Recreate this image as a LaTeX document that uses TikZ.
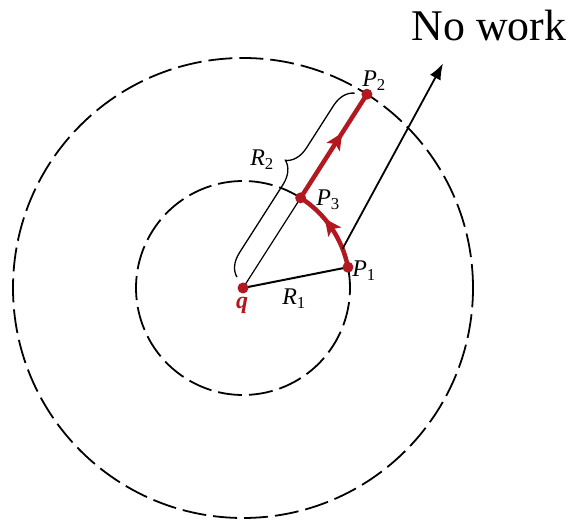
\documentclass[tikz,border=0pt]{standalone}
\usepackage{fontspec}
\setmainfont{Liberation Serif}
\usetikzlibrary{calc,arrows.meta,decorations.pathreplacing,decorations.markings}
\definecolor{chargered}{RGB}{178,24,32}
\tikzset{
  circdash/.style={line width=1.8, dash pattern=on 24bp off 7bp},
  redpath/.style={chargered, line width=4.5},
  midhead/.style={postaction=decorate,
    decoration={markings, mark=at position #1 with {\fill[chargered] (7bp,0) -- (-10bp,8bp) -- (-6bp,0) -- (-10bp,-8bp) -- cycle;}}},
  lbl/.style={font=\fontsize{24}{28}\selectfont\itshape, inner sep=0pt},
  bracestyle/.style={line width=1.3, decorate, decoration={brace, amplitude=22bp, raise=11bp, aspect=0.57}},
  dot/.style={chargered}
}
\begin{document}
\begin{tikzpicture}[x=1bp,y=1bp]
\useasboundingbox (0,0) rectangle (578,523);
% charge and the points
\coordinate (q) at (243,235);
\coordinate (P1) at ($(q)+(11.2:107)$);
\coordinate (P3) at ($(q)+(57.4:107)$);
\coordinate (P2) at ($(q)+(57.4:230)$);
\coordinate (arcpt) at ($(q)+(21.5:107)$);
\coordinate (tip) at ($(q)+(200,224.5)$);

% equipotential circles
\draw[circdash] (q) circle[radius=230];
\draw[circdash] (P3) arc[start angle=57.4, end angle=371.2, radius=107];

% radii
\draw[line width=1.2] (q) -- (P3);
\draw[line width=2] (q) -- (P1);
\draw[bracestyle] ($(q)!0.026!(P2)$) -- ($(q)!0.975!(P2)$);

% path P1 -> P3 -> P2
\draw[redpath, midhead=0.55] (P1) arc[start angle=11.2, end angle=57.4, radius=107];
\draw[redpath, midhead=0.57] (P3) -- (P2);

\foreach \p in {q,P1,P2,P3}
  \fill[dot] (\p) circle[radius=5.5];

\node[font=\fontsize{44}{50}\selectfont, anchor=base] (nowork) at (489,482) {No work};
\draw[line width=1.8, -{Latex[length=16bp,width=12bp]}] (arcpt) -- (tip);

% labels
\node[lbl] (labP2) at (374,442) {P\textsubscript{\upshape 2}};
\node[lbl] (labP3) at (328,323) {P\textsubscript{\upshape 3}};
\node[lbl] (labP1) at (364,252) {P\textsubscript{\upshape 1}};
\node[lbl] (labR1) at (294,224) {R\textsubscript{\upshape 1}};
\node[lbl] (labR2) at (262,363) {R\textsubscript{\upshape 2}};
\node[lbl, font=\fontsize{24}{28}\selectfont\bfseries\itshape, text=chargered] (labq) at (242,218) {q};
\end{tikzpicture}
\end{document}
